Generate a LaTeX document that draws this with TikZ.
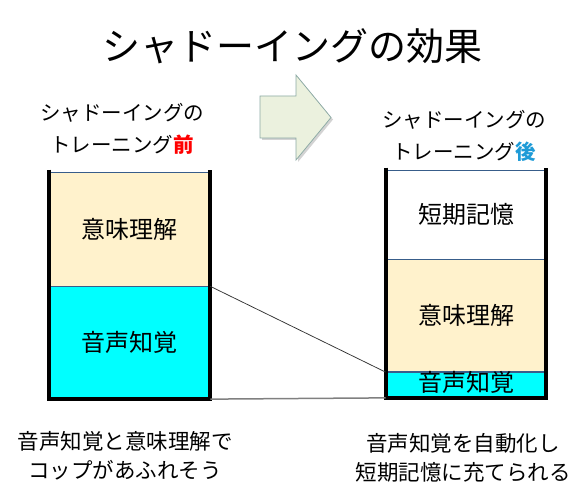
\documentclass[tikz,border=0pt]{standalone}
\usepackage{fontspec}
\setmainfont{Noto Sans CJK JP}
\usetikzlibrary{positioning,shadows}
\definecolor{cream}{RGB}{255,242,204}
\definecolor{voicecyan}{RGB}{0,255,255}
\definecolor{boxline}{RGB}{56,93,138}
\definecolor{arrowfill}{RGB}{235,241,222}
\definecolor{arrowline}{RGB}{140,170,165}
\definecolor{afterblue}{RGB}{30,155,215}
\tikzstyle{layer}=[
	rectangle,
	draw=boxline,
	line width=0.75pt,
	inner sep=0pt,
	font=\fontsize{24}{28}\selectfont
]
\tikzstyle{cupwall}=[
	line width=4pt,
	line join=miter
]
\tikzstyle{caption}=[
	align=center,
	inner sep=0pt,
	font=\fontsize{20.5}{32}\selectfont
]
\tikzstyle{remark}=[
	align=center,
	inner sep=0pt,
	font=\fontsize{21.5}{29}\selectfont
]
\tikzstyle{nextarrow}=[
	draw=arrowline,
	fill=arrowfill,
	line width=0.75pt,
	line join=miter,
	drop shadow={opacity=0.35,shadow xshift=2pt,shadow yshift=-2pt}
]

\begin{document}
\begin{tikzpicture}[x=1pt,y=-1pt]
\useasboundingbox (0,0) rectangle (585,502);
\node [font=\fontsize{38}{44}\selectfont, inner sep=0pt] (title) at (292,46) {シャドーイングの効果};
\path [nextarrow] (260,96) -- (296,96) -- (296,75) -- (331,117.5) -- (296,160) -- (296,138) -- (260,138) -- cycle;
% before training
\node [caption] (preLabel) at (122,129) {シャドーイングの\\トレーニング\textcolor{red}{\textbf{前}}};
\node [layer, fill=cream, minimum width=161pt, minimum height=114pt] (preMean) at (129.5,229) {意味理解};
\node [layer, fill=voicecyan, minimum width=161pt, minimum height=112pt] (preVoice)[below=0pt of preMean] {音声知覚};
\draw [cupwall] ([yshift=2pt]preMean.north west) -- (preVoice.south west) -- (preVoice.south east) -- ([yshift=2pt]preMean.north east);
\node [remark] (preRemark) at (125,456) {音声知覚と意味理解で\\コップがあふれそう};
% after training
\node [caption] (postLabel) at (464,136) {シャドーイングの\\トレーニング\textcolor{afterblue}{\textbf{後}}};
\node [layer, fill=white, minimum width=160pt, minimum height=89pt] (postShort) at (466,214.5) {短期記憶};
\node [layer, fill=cream, minimum width=160pt, minimum height=112pt] (postMean)[below=0pt of postShort] {意味理解};
\node [layer, fill=voicecyan, minimum width=160pt, minimum height=25pt, text height=19pt, text depth=6pt] (postVoice)[below=0pt of postMean] {音声知覚};
\draw [cupwall] ([yshift=2pt]postShort.north west) -- (postVoice.south west) -- (postVoice.south east) -- ([yshift=2pt]postShort.north east);
\node [remark] (postRemark) at (463,458) {音声知覚を自動化し\\短期記憶に充てられる};
% guides between the cups
\draw [black!80, line width=0.75pt] (preVoice.north east) -- (postVoice.north west);
\draw [black!50, line width=1.5pt] (preVoice.south east) -- (postVoice.south west);
\end{tikzpicture}
\end{document}
